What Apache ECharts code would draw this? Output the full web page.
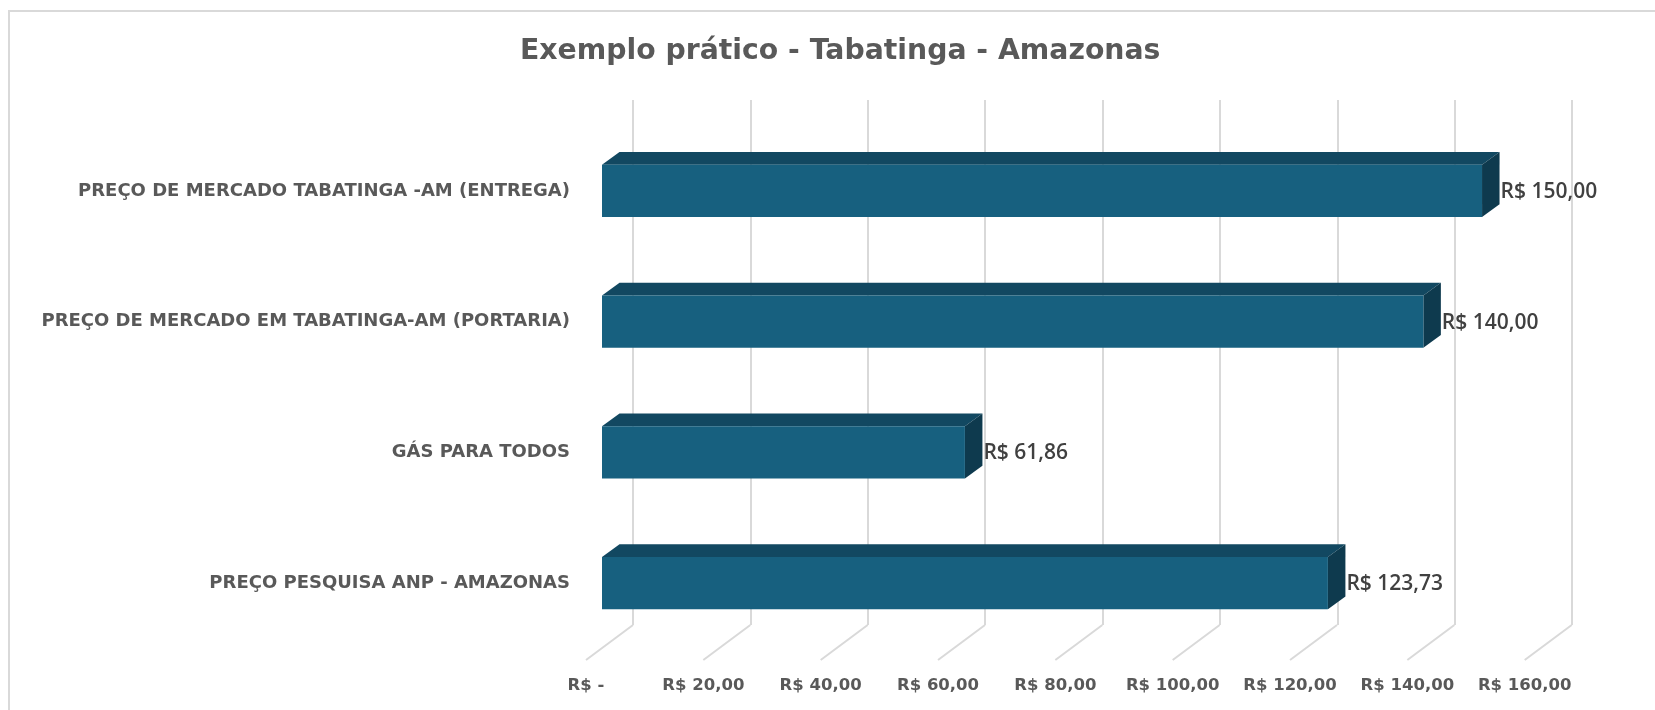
<!DOCTYPE html>
<html>
<head>
<meta charset="utf-8">
<script src="https://cdn.jsdelivr.net/npm/echarts@6/dist/echarts.min.js"></script>
<style>
html, body { margin: 0; padding: 0; background: #fff; }
#frame { position: absolute; left: 8px; top: 10px; width: 1660px; height: 720px; border: 2px solid #d9d9d9; }
#chart { position: absolute; left: 0; top: 0; width: 1655px; height: 710px; }
</style>
</head>
<body>
<div id="frame"></div>
<div id="chart"></div>
<script>
// dados do gráfico
const categories = [
  'PREÇO DE MERCADO TABATINGA -AM (ENTREGA)',
  'PREÇO DE MERCADO EM TABATINGA-AM (PORTARIA)',
  'GÁS PARA TODOS',
  'PREÇO PESQUISA ANP - AMAZONAS'
]
const values = [150, 140, 61.86, 123.73]
const tickValues = [0, 20, 40, 60, 80, 100, 120, 140, 160]

const FONT = '"DejaVu Sans", sans-serif'
const GRID_COLOR = '#d9d9d9'
// deslocamento da profundidade 3D
const DX = 17.5
const DY = -12.7

function fmt(v) {
  return v === 0 ? 'R$ -' : 'R$ ' + v.toFixed(2).replace('.', ',')
}

const chart = echarts.init(document.getElementById('chart'))

const option = {
  backgroundColor: 'transparent',
  animation: false,
  title: {
    text: 'Exemplo prático - Tabatinga - Amazonas',
    left: 520,
    top: 38,
    padding: 0,
    textStyle: { fontFamily: FONT, fontSize: 28.3, fontWeight: 'bold', color: '#595959' }
  },
  grid: [
    // parede do fundo
    { left: 633, right: 83, top: 100, bottom: 85, outerBoundsMode: 'none' },
    // borda frontal do piso
    { left: 586, right: 130.3, top: 100, bottom: 50, outerBoundsMode: 'none' },
    // plano das barras
    { left: 602, right: 114.3, top: 125.5, bottom: 61.5, outerBoundsMode: 'none' }
  ],
  xAxis: [
    {
      gridIndex: 0, type: 'value', min: 0, max: 160, interval: 20,
      axisLabel: { show: false }, axisLine: { show: false }, axisTick: { show: false },
      splitLine: { show: true, lineStyle: { color: GRID_COLOR, width: 2 } }
    },
    {
      gridIndex: 1, type: 'value', min: 0, max: 160, interval: 20,
      axisLine: { show: false }, axisTick: { show: false }, splitLine: { show: false },
      axisLabel: { formatter: fmt, color: '#595959', fontSize: 16.5, fontFamily: FONT, fontWeight: 'bold', margin: 17 }
    },
    {
      gridIndex: 2, type: 'value', min: 0, max: 160, show: false
    }
  ],
  yAxis: [
    { gridIndex: 0, type: 'category', data: categories, show: false },
    { gridIndex: 1, type: 'value', min: 0, max: 1, show: false },
    {
      gridIndex: 2, type: 'category', data: categories, inverse: true,
      axisLine: { show: false }, axisTick: { show: false },
      axisLabel: { color: '#595959', fontSize: 18, fontFamily: FONT, fontWeight: 'bold', margin: 32 }
    }
  ],
  series: [
    {
      // linhas diagonais do piso
      type: 'custom',
      xAxisIndex: 1,
      yAxisIndex: 1,
      data: tickValues.map(v => [v, 0]),
      renderItem: (params, api) => {
        const p = api.coord([api.value(0), 0])
        return {
          type: 'line',
          shape: { x1: p[0], y1: p[1], x2: p[0] + 47, y2: p[1] - 35 },
          style: { stroke: GRID_COLOR, lineWidth: 2 }
        }
      }
    },
    {
      // barras 3D
      type: 'custom',
      xAxisIndex: 2,
      yAxisIndex: 2,
      data: values.map((v, i) => [v, i]),
      renderItem: (params, api) => {
        const v = api.value(0)
        const start = api.coord([0, api.value(1)])
        const end = api.coord([v, api.value(1)])
        const h = api.size([0, 1])[1] * 0.4
        const x0 = start[0]
        const x1 = end[0]
        const yt = start[1] - h / 2
        const yb = start[1] + h / 2
        return {
          type: 'group',
          children: [
            {
              type: 'polygon',
              shape: { points: [[x0, yt], [x1, yt], [x1 + DX, yt + DY], [x0 + DX, yt + DY]] },
              style: { fill: '#124861' }
            },
            {
              type: 'polygon',
              shape: { points: [[x1, yt], [x1 + DX, yt + DY], [x1 + DX, yb + DY], [x1, yb]] },
              style: { fill: '#0e3a4e' }
            },
            {
              type: 'rect',
              shape: { x: x0, y: yt, width: x1 - x0, height: h },
              style: { fill: '#17607f' }
            },
            {
              type: 'text',
              x: x1 + DX + 1,
              y: start[1] + 1,
              style: {
                text: fmt(v),
                fill: '#404040',
                font: '600 21px "Open Sans", sans-serif',
                align: 'left',
                verticalAlign: 'middle'
              }
            }
          ]
        }
      }
    }
  ]
}

chart.setOption(option)
</script>
</body>
</html>
